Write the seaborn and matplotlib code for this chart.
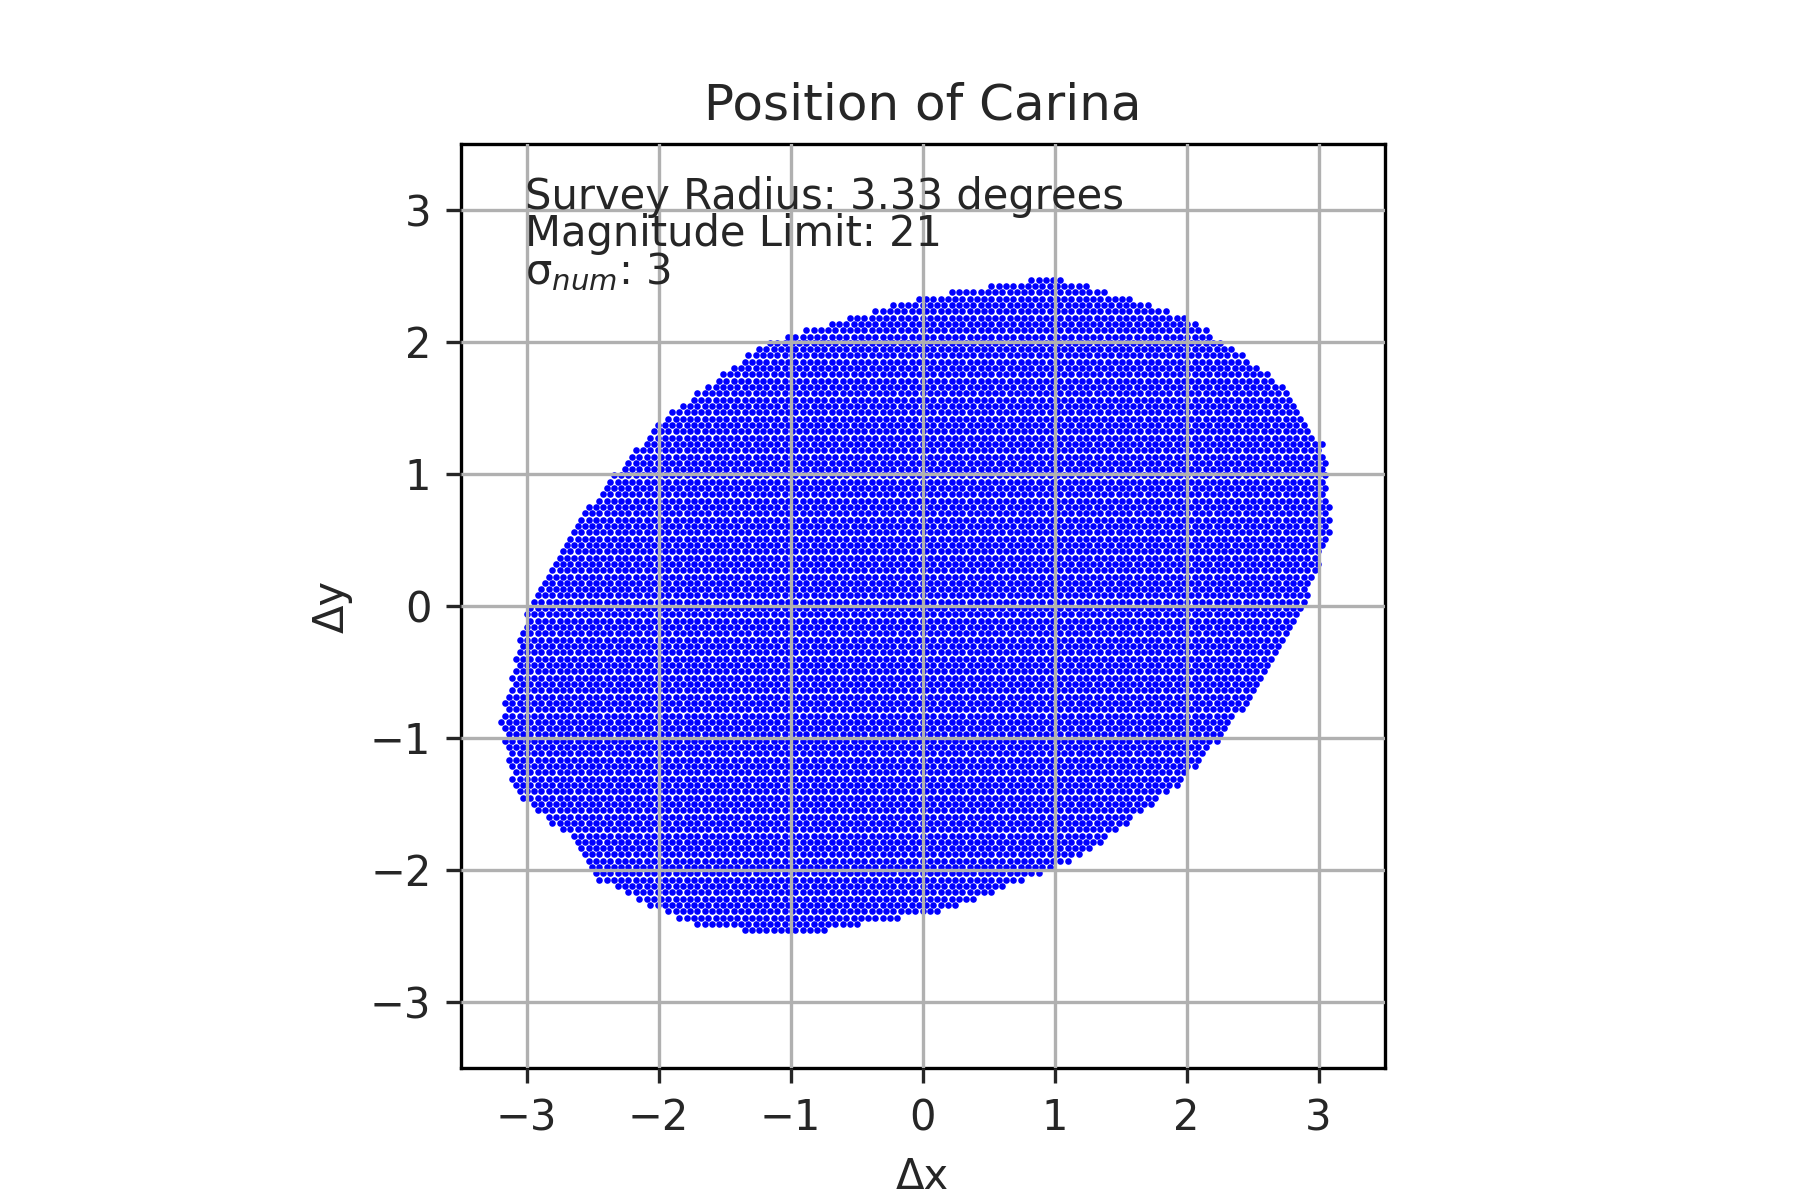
import numpy as np
import pandas as pd
import matplotlib
matplotlib.use("Agg")
import matplotlib.pyplot as plt
from matplotlib.path import Path
import seaborn as sns

# outline of the star field (degrees)
edge_x = [1.0, 2.0, 2.7, 3.05, 3.1, 2.9, 2.5, 2.0, 1.2, 0.2, -1.0, -1.8, -2.5,
          -2.65, -2.8, -3.1, -3.2, -3.0, -2.5, -2.0, -1.2, 0.0]
edge_y = [2.5, 2.2, 1.7, 1.2, 0.6, 0.0, -0.7, -1.3, -1.9, -2.3, -2.5, -2.4, -2.05,
          -1.75, -1.65, -1.4, -0.9, 0.0, 0.8, 1.4, 2.0, 2.35]
title = "Position of Carina"
info = ["Survey Radius: 3.33 degrees", "Magnitude Limit: 21", "σ$_{num}$: 3"]

# fill the outline with a regular staggered grid of markers
outline = Path(np.column_stack([edge_x, edge_y]))
step = 0.055
gy = np.arange(-2.6, 2.6, step * 0.87)
pts = []
for i, yy in enumerate(gy):
    xs = np.arange(-3.3 + (i % 2) * step / 2, 3.3, step)
    pts.append(np.column_stack([xs, np.full_like(xs, yy)]))
pts = np.vstack(pts)
pts = pts[outline.contains_points(pts)]
df = pd.DataFrame({"dx": pts[:, 0], "dy": pts[:, 1]})

sns.set_style("white")
fig, ax = plt.subplots(figsize=(6, 4), dpi=300)
sns.scatterplot(data=df, x="dx", y="dy", color="blue", s=2.5, linewidth=0, ax=ax)
ax.set_xlim(-3.5, 3.5)
ax.set_ylim(-3.5, 3.5)
ax.set_aspect("equal")
ax.set_xticks(range(-3, 4))
ax.set_yticks(range(-3, 4))
ax.grid(True, color="#b0b0b0", linewidth=0.8)
ax.set_axisbelow(False)
ax.tick_params(direction="out", length=3.5, width=0.8, labelsize=10, left=True, bottom=True)
for s in ax.spines.values():
    s.set_color("black")
    s.set_linewidth(0.8)
ax.set_xlabel("Δx", fontsize=10)
ax.set_ylabel("Δy", fontsize=10)
ax.set_title(title, fontsize=12)
ax.text(0.07, 0.965, "\n".join(info), transform=ax.transAxes, va="top",
        fontsize=10, linespacing=0.85)
fig.savefig("out.png", dpi=300)
